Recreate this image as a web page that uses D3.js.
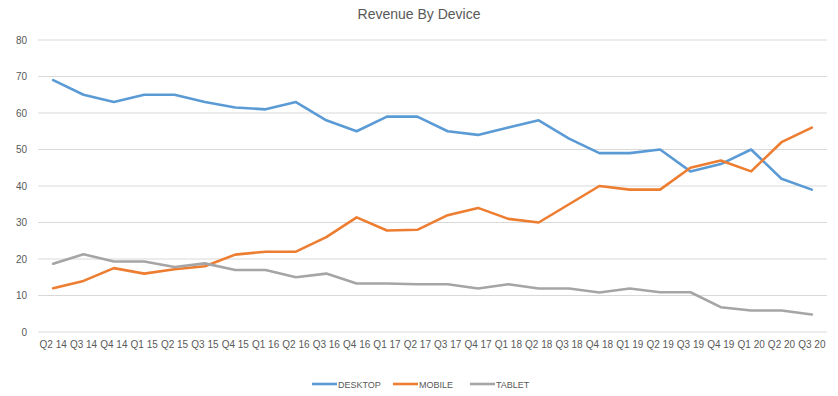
<!DOCTYPE html>
<html>
<head>
<meta charset="utf-8">
<script src="https://cdn.jsdelivr.net/npm/d3@7"></script>
<style>
	body { margin: 0; background: #fff; }
	svg { font-family: "Liberation Sans", Arial, sans-serif; }
</style>
</head>
<body>
<svg id="chart"></svg>
<script>
// Revenue by device, quarterly share
var quarters = ['Q2 14', 'Q3 14', 'Q4 14', 'Q1 15', 'Q2 15', 'Q3 15', 'Q4 15', 'Q1 16', 'Q2 16',
	'Q3 16', 'Q4 16', 'Q1 17', 'Q2 17', 'Q3 17', 'Q4 17', 'Q1 18', 'Q2 18', 'Q3 18', 'Q4 18',
	'Q1 19', 'Q2 19', 'Q3 19', 'Q4 19', 'Q1 20', 'Q2 20', 'Q3 20'];
var desktop = [69, 65, 63, 65, 65, 63, 61.5, 61, 63, 58, 55, 59, 59, 55, 54, 56, 58, 53, 49,
	49, 50, 44, 46, 50, 42, 39];
var mobile = [12, 14, 17.5, 16, 17.2, 18, 21.2, 22, 22, 26, 31.4, 27.8, 28, 32, 34, 31, 30, 35, 40,
	39, 39, 45, 47, 44, 52, 56];
var tablet = [18.7, 21.3, 19.3, 19.3, 17.8, 18.8, 17, 17, 15, 16, 13.3, 13.3, 13.1, 13.1, 11.9, 13.1,
	11.9, 11.9, 10.8, 11.9, 10.9, 10.9, 6.8, 5.9, 5.9, 4.8];
var yTicks = [0, 10, 20, 30, 40, 50, 60, 70, 80];
var seriesNames = ['DESKTOP', 'MOBILE', 'TABLET'];
var seriesColors = ['#5B9BD5', '#ED7D31', '#A5A5A5'];

var W = 838, H = 396;
var margin = {top: 40, right: 11, bottom: 64, left: 38};
var width = W - margin.left - margin.right;
var height = H - margin.top - margin.bottom;

var svg = d3.select('#chart').attr('width', W).attr('height', H);

svg.append('text')
	.attr('x', 419).attr('y', 19)
	.attr('text-anchor', 'middle')
	.attr('font-size', 14)
	.attr('fill', '#595959')
	.text('Revenue By Device');

var g = svg.append('g')
	.attr('transform', 'translate(' + margin.left + ',' + margin.top + ')');

var x = d3.scaleBand().domain(quarters).range([0, width]);
var y = d3.scaleLinear().domain([0, 80]).range([height, 0]);

// gridlines
g.append('g')
	.selectAll('line')
	.data(yTicks)
	.join('line')
		.attr('x1', 0).attr('x2', width)
		.attr('y1', function(d) { return y(d); })
		.attr('y2', function(d) { return y(d); })
		.attr('stroke', '#D9D9D9')
		.attr('stroke-width', 1);

var yAxis = g.append('g')
	.call(d3.axisLeft(y).tickValues(yTicks).tickSize(0).tickPadding(11));
yAxis.select('.domain').remove();
yAxis.selectAll('text').attr('font-size', 10).attr('fill', '#595959')
	.attr('font-family', '"Liberation Sans", Arial, sans-serif');

var xAxis = g.append('g')
	.attr('transform', 'translate(0,' + height + ')')
	.call(d3.axisBottom(x).tickSize(0).tickPadding(9));
xAxis.select('.domain').remove();
xAxis.selectAll('text').attr('font-size', 10).attr('fill', '#595959')
	.attr('font-family', '"Liberation Sans", Arial, sans-serif');

var line = d3.line()
	.x(function(d, i) { return x(quarters[i]) + x.bandwidth() / 2; })
	.y(function(d) { return y(d); });

[desktop, mobile, tablet].forEach(function(vals, i) {
	g.append('path')
		.datum(vals)
		.attr('fill', 'none')
		.attr('stroke', seriesColors[i])
		.attr('stroke-width', 2.6)
		.attr('stroke-linejoin', 'round')
		.attr('stroke-linecap', 'round')
		.attr('d', line);
});

// legend
var legendX = [312, 393, 470];
var legend = svg.append('g').attr('transform', 'translate(0,384)');
seriesNames.forEach(function(name, i) {
	legend.append('line')
		.attr('x1', legendX[i]).attr('x2', legendX[i] + 25)
		.attr('y1', 0).attr('y2', 0)
		.attr('stroke', seriesColors[i])
		.attr('stroke-width', 2.6);
	legend.append('text')
		.attr('x', legendX[i] + 26).attr('y', 3.5)
		.attr('font-size', 9)
		.attr('fill', '#595959')
		.text(name);
});
</script>
</body>
</html>
